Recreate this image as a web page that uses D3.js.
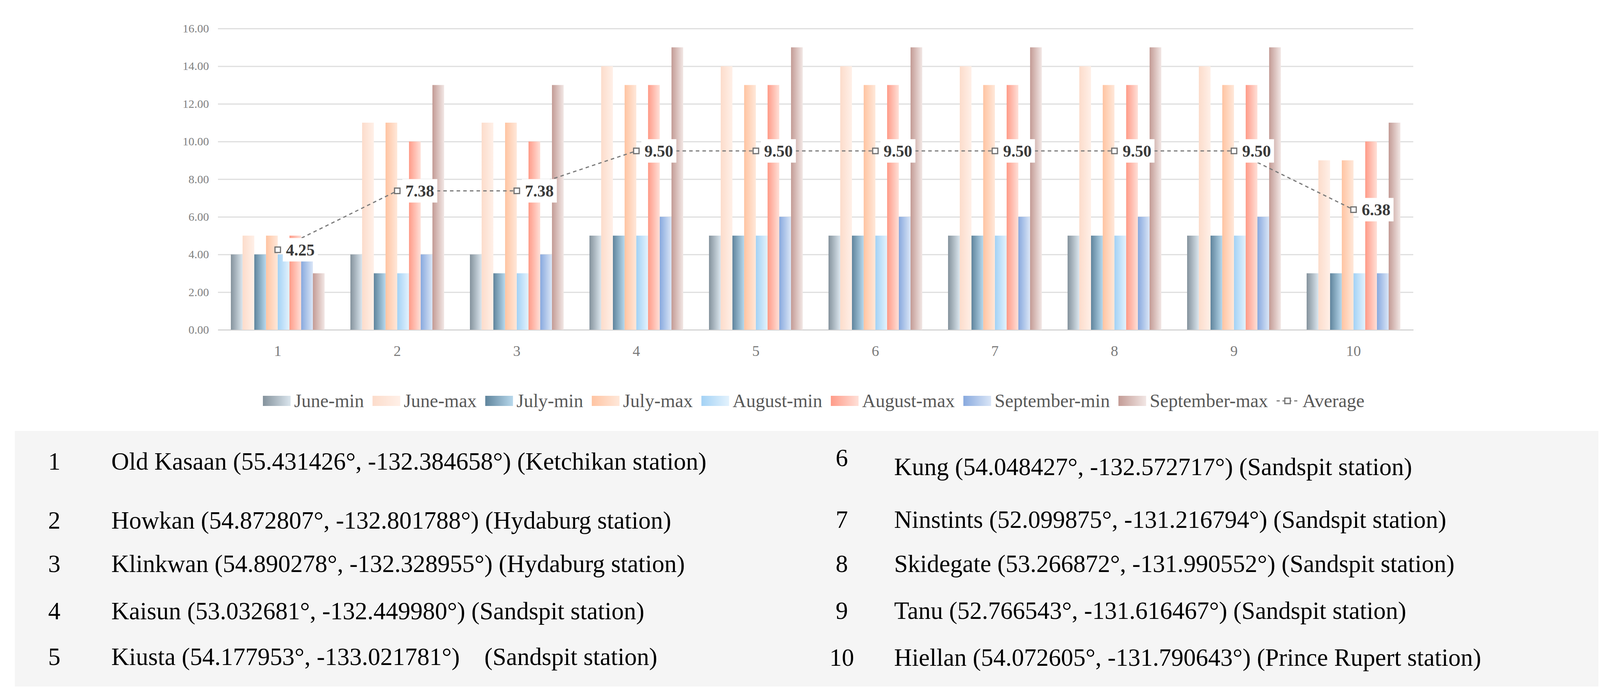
<!DOCTYPE html>
<html>
<head>
<meta charset="utf-8">
<script src="https://cdn.jsdelivr.net/npm/d3@7"></script>
<style>
body { margin: 0; background: #fff; }
text { font-family: "Liberation Serif", "DejaVu Serif", serif; }
</style>
</head>
<body>
<div id="chart"></div>
<script>
// categories = site numbers
var categories = ["1", "2", "3", "4", "5", "6", "7", "8", "9", "10"];
var seriesNames = ["June-min", "June-max", "July-min", "July-max", "August-min", "August-max", "September-min", "September-max"];

var juneMin      = [4, 4, 4, 5, 5, 5, 5, 5, 5, 3];
var juneMax      = [5, 11, 11, 14, 14, 14, 14, 14, 14, 9];
var julyMin      = [4, 3, 3, 5, 5, 5, 5, 5, 5, 3];
var julyMax      = [5, 11, 11, 13, 13, 13, 13, 13, 13, 9];
var augustMin    = [4, 3, 3, 5, 5, 5, 5, 5, 5, 3];
var augustMax    = [5, 10, 10, 13, 13, 13, 13, 13, 13, 10];
var septemberMin = [4, 4, 4, 6, 6, 6, 6, 6, 6, 3];
var septemberMax = [3, 13, 13, 15, 15, 15, 15, 15, 15, 11];
var average      = [4.25, 7.38, 7.38, 9.50, 9.50, 9.50, 9.50, 9.50, 9.50, 6.38];

var yTicks = [0, 2, 4, 6, 8, 10, 12, 14, 16];

// key table under the chart
var siteNumbers = ["1", "2", "3", "4", "5", "6", "7", "8", "9", "10"];
var siteLabels = [
  "Old Kasaan (55.431426°, -132.384658°) (Ketchikan station)",
  "Howkan (54.872807°, -132.801788°) (Hydaburg station)",
  "Klinkwan (54.890278°, -132.328955°) (Hydaburg station)",
  "Kaisun (53.032681°, -132.449980°) (Sandspit station)",
  "Kiusta (54.177953°, -133.021781°)    (Sandspit station)",
  "Kung (54.048427°, -132.572717°) (Sandspit station)",
  "Ninstints (52.099875°, -131.216794°) (Sandspit station)",
  "Skidegate (53.266872°, -131.990552°) (Sandspit station)",
  "Tanu (52.766543°, -131.616467°) (Sandspit station)",
  "Hiellan (54.072605°, -131.790643°) (Prince Rupert station)"
];

var allSeries = [juneMin, juneMax, julyMin, julyMax, augustMin, augustMax, septemberMin, septemberMax];

// gradient stops per series (left -> right)
var gradColors = [
  ["#84929c", "#dbe6ee"],
  ["#fcdccb", "#fff0e8"],
  ["#5f849c", "#b7d8ec"],
  ["#ffc4a2", "#ffe8da"],
  ["#a3d2f5", "#e3f2fd"],
  ["#ff9b88", "#ffe0d8"],
  ["#88a9de", "#dae6f7"],
  ["#c39b95", "#f2e7e5"]
];

var W = 4130, H = 1789;
var plot = {left: 558, right: 3618, top: 73, bottom: 844};

var svg = d3.select("#chart").append("svg")
  .attr("width", W)
  .attr("height", H);

var defs = svg.append("defs");
gradColors.forEach(function(c, i){
  var g = defs.append("linearGradient")
    .attr("id", "grad" + i)
    .attr("x1", "0").attr("x2", "1").attr("y1", "0").attr("y2", "0");
  g.append("stop").attr("offset", "0%").attr("stop-color", c[0]);
  g.append("stop").attr("offset", "100%").attr("stop-color", c[1]);
});

var x0 = d3.scaleBand()
  .domain(categories)
  .range([plot.left, plot.right])
  .paddingInner(66 / 306)
  .paddingOuter(33 / 306);

var x1 = d3.scaleBand()
  .domain(seriesNames)
  .range([0, x0.bandwidth()]);

var y = d3.scaleLinear()
  .domain([0, 16])
  .range([plot.bottom, plot.top]);

//gridlines + y labels
var yAxis = d3.axisLeft(y)
  .tickValues(yTicks)
  .tickFormat(d3.format(".2f"))
  .tickSize(-(plot.right - plot.left))
  .tickPadding(23);

var gy = svg.append("g")
  .attr("transform", "translate(" + plot.left + ",0)")
  .call(yAxis);
gy.select(".domain").remove();
gy.selectAll(".tick line")
  .attr("stroke", "#dedede")
  .attr("stroke-width", 3);
gy.selectAll(".tick text")
  .attr("fill", "#808080")
  .style("font-size", "30px")
  .style("font-family", "Liberation Serif, serif");

//x axis
var xAxis = d3.axisBottom(x0).tickSize(0).tickPadding(40);
var gx = svg.append("g")
  .attr("transform", "translate(0," + plot.bottom + ")")
  .call(xAxis);
gx.select(".domain")
  .attr("stroke", "#d4d4d4")
  .attr("stroke-width", 3);
gx.selectAll(".tick text")
  .attr("fill", "#7a7a7a")
  .style("font-size", "38px")
  .style("font-family", "Liberation Serif, serif");

//bars
var groups = svg.append("g").selectAll("g")
  .data(categories)
  .enter().append("g")
  .attr("transform", function(d){ return "translate(" + x0(d) + ",0)"; });

groups.selectAll("rect")
  .data(function(d, ci){
    return seriesNames.map(function(s, si){ return {s: s, si: si, v: allSeries[si][ci]}; });
  })
  .enter().append("rect")
  .attr("x", function(d){ return x1(d.s); })
  .attr("width", x1.bandwidth())
  .attr("y", function(d){ return y(d.v); })
  .attr("height", function(d){ return y(0) - y(d.v); })
  .attr("fill", function(d){ return "url(#grad" + d.si + ")"; });

//average line
var cx = function(d, i){ return x0(categories[i]) + x0.bandwidth() / 2; };
var line = d3.line()
  .x(function(d, i){ return cx(d, i); })
  .y(function(d){ return y(d); });

svg.append("path")
  .datum(average)
  .attr("d", line)
  .attr("fill", "none")
  .attr("stroke", "#7a7a7a")
  .attr("stroke-width", 3)
  .attr("stroke-dasharray", "9,8");

svg.append("g").selectAll("rect")
  .data(average)
  .enter().append("rect")
  .attr("x", function(d, i){ return cx(d, i) - 7; })
  .attr("y", function(d){ return y(d) - 7; })
  .attr("width", 14).attr("height", 14)
  .attr("fill", "#fff")
  .attr("stroke", "#707070")
  .attr("stroke-width", 3);

//data labels
var fmt = d3.format(".2f");
var labels = svg.append("g").selectAll("g")
  .data(average)
  .enter().append("g")
  .attr("transform", function(d, i){ return "translate(" + (cx(d, i) + 13) + "," + y(d) + ")"; });

var boxes = labels.append("rect")
  .attr("fill", "#fff")
  .attr("y", -30)
  .attr("height", 60);

var ltext = labels.append("text")
  .attr("x", 8)
  .attr("dy", "0.35em")
  .attr("fill", "#3a3a3a")
  .style("font-size", "42px")
  .style("font-weight", "bold")
  .text(function(d){ return fmt(d); });

ltext.each(function(d, i){
  var w = this.getComputedTextLength();
  d3.select(boxes.nodes()[i]).attr("width", w + 16);
});

//legend
var legend = svg.append("g").attr("class", "legend");
var lx = 673, ly = 1026;
seriesNames.forEach(function(s, i){
  legend.append("rect")
    .attr("x", lx).attr("y", ly - 13)
    .attr("width", 71).attr("height", 26)
    .attr("fill", "url(#grad" + i + ")");
  var t = legend.append("text")
    .attr("x", lx + 80).attr("y", ly)
    .attr("dy", "0.33em")
    .attr("fill", "#595959")
    .style("font-size", "48px")
    .text(s);
  lx += 80 + t.node().getComputedTextLength() + 22;
});
legend.append("line")
  .attr("x1", lx).attr("x2", lx + 56)
  .attr("y1", ly).attr("y2", ly)
  .attr("stroke", "#7a7a7a")
  .attr("stroke-width", 3)
  .attr("stroke-dasharray", "8,7");
legend.append("rect")
  .attr("x", lx + 21).attr("y", ly - 7)
  .attr("width", 14).attr("height", 14)
  .attr("fill", "#fff")
  .attr("stroke", "#707070")
  .attr("stroke-width", 3);
legend.append("text")
  .attr("x", lx + 66).attr("y", ly)
  .attr("dy", "0.33em")
  .attr("fill", "#595959")
  .style("font-size", "48px")
  .text("Average");

//table of sites
svg.append("rect")
  .attr("x", 38).attr("y", 1103)
  .attr("width", 4092 - 38).attr("height", 1757 - 1103)
  .attr("fill", "#f5f5f5");

var rowY = [1202, 1353, 1464, 1585, 1702, 1216, 1351, 1464, 1584, 1704];
var numY = [1202, 1353, 1464, 1585, 1702, 1193, 1351, 1464, 1584, 1704];

var rows = svg.append("g").selectAll("g")
  .data(siteNumbers)
  .enter().append("g");

rows.append("text")
  .attr("x", function(d, i){ return i < 5 ? 139 : 2155; })
  .attr("y", function(d, i){ return numY[i]; })
  .attr("text-anchor", "middle")
  .attr("fill", "#000")
  .style("font-size", "63px")
  .text(function(d){ return d; });

rows.append("text")
  .attr("x", function(d, i){ return i < 5 ? 285 : 2289; })
  .attr("y", function(d, i){ return rowY[i]; })
  .attr("fill", "#000")
  .style("font-size", "63px")
  .style("white-space", "pre")
  .text(function(d, i){ return siteLabels[i]; });
</script>
</body>
</html>
